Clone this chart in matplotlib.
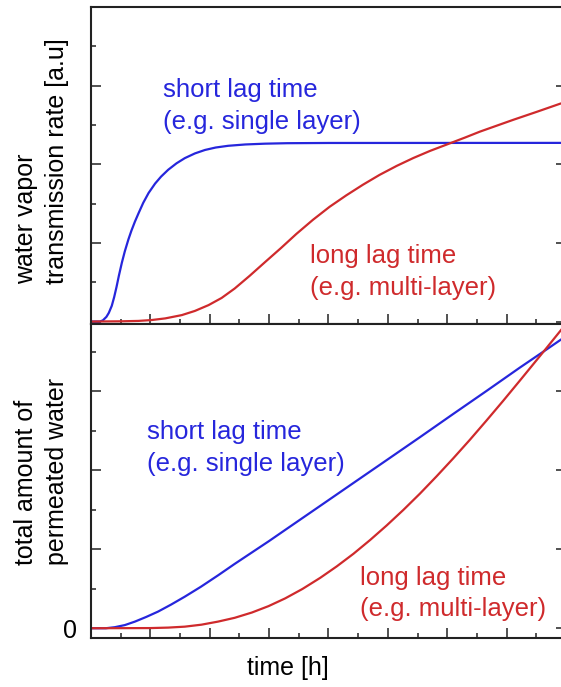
import numpy as np
import matplotlib
matplotlib.use("Agg")
from matplotlib import pyplot as plt
from matplotlib.ticker import MultipleLocator

# water vapor transmission rate (top panel), time in h, rate in a.u.
wvtr_short_t = [0.0, 0.15, 0.20, 0.26, 0.30, 0.35, 0.39, 0.43, 0.47, 0.52,
                0.57, 0.63, 0.68, 0.74, 0.80, 0.88, 0.97, 1.08, 1.18, 1.30,
                1.44, 1.58, 1.75, 1.92, 2.10, 2.31, 2.60, 2.93, 3.30, 4.0, 8.0]
wvtr_short_v = [0.0, 0.0, 0.015, 0.06, 0.11, 0.20, 0.31, 0.44, 0.584, 0.749,
                0.894, 1.044, 1.154, 1.271, 1.376, 1.51, 1.635, 1.755, 1.843, 1.93,
                2.012, 2.078, 2.138, 2.182, 2.213, 2.235, 2.252, 2.262, 2.268, 2.271, 2.272]

wvtr_long_t = [0.0, 0.5, 0.8, 1.02, 1.25, 1.53, 1.75, 1.98, 2.20, 2.42,
               2.67, 2.93, 3.20, 3.46, 3.74, 4.02, 4.30, 4.58, 4.86, 5.15,
               5.43, 5.71, 6.04, 6.30, 6.55, 6.83, 7.11, 7.50, 7.90, 8.0]
wvtr_long_v = [0.0, 0.003, 0.008, 0.019, 0.04, 0.082, 0.135, 0.209, 0.30, 0.42,
               0.58, 0.755, 0.935, 1.115, 1.295, 1.46, 1.605, 1.74, 1.865, 1.98,
               2.08, 2.17, 2.265, 2.34, 2.415, 2.49, 2.565, 2.665, 2.77, 2.79]

# total amount of permeated water (bottom panel)
total_short_t = [0.0, 0.25, 0.40, 0.57, 0.74, 0.93, 1.13, 1.35, 1.58, 1.85,
                 2.14, 2.42, 2.71, 3.0, 3.27, 3.86, 4.42, 5.0, 5.54, 6.1,
                 6.66, 7.22, 7.67, 8.0]
total_short_v = [0.0, 0.0, 0.013, 0.04, 0.084, 0.143, 0.211, 0.30, 0.40, 0.525,
                 0.67, 0.815, 0.96, 1.105, 1.245, 1.55, 1.84, 2.14, 2.42, 2.714,
                 3.005, 3.30, 3.53, 3.70]

total_long_t = [0.0, 1.0, 1.3, 1.58, 1.86, 2.14, 2.42, 2.71, 2.99, 3.27,
                3.56, 3.86, 4.14, 4.42, 4.70, 4.98, 5.26, 5.54, 5.82, 6.10,
                6.38, 6.66, 6.94, 7.22, 7.67, 8.0]
total_long_v = [0.0, 0.002, 0.008, 0.02, 0.045, 0.084, 0.132, 0.199, 0.280, 0.378,
                0.497, 0.638, 0.784, 0.943, 1.117, 1.302, 1.498, 1.705, 1.924, 2.151,
                2.386, 2.630, 2.879, 3.134, 3.548, 3.855]

blue = '#2626dc'
red = '#cf2a2c'

plt.rcParams['font.family'] = ['Liberation Sans', 'DejaVu Sans']

fig = plt.figure(figsize=(5.61, 6.87), dpi=100)
ax1 = fig.add_axes([0.1622, 0.5291, 0.8467, 0.4607])
ax2 = fig.add_axes([0.1622, 0.0706, 0.8467, 0.4585])

ax1.plot(wvtr_short_t, wvtr_short_v, color=blue, lw=1.6)
ax1.plot(wvtr_long_t, wvtr_long_v, color=red, lw=1.6)
ax2.plot(total_short_t, total_short_v, color=blue, lw=1.6)
ax2.plot(total_long_t, total_long_v, color=red, lw=1.6)

ax1.set_xlim(0, 8)
ax2.set_xlim(0, 8)
ax1.set_ylim(-0.025, 4.0)
ax2.set_ylim(-0.13, 3.86)

for ax in (ax1, ax2):
    ax.xaxis.set_major_locator(MultipleLocator(1))
    ax.xaxis.set_minor_locator(MultipleLocator(0.5))
    ax.yaxis.set_major_locator(MultipleLocator(1))
    ax.yaxis.set_minor_locator(MultipleLocator(0.5))
    ax.tick_params(which='both', direction='in', left=True, right=True,
                   top=False, bottom=True, labelbottom=False,
                   color='#222222', width=1.1)
    ax.tick_params(which='major', length=7.2)
    ax.tick_params(which='minor', length=3.6)
    for s in ax.spines.values():
        s.set_linewidth(1.5)
        s.set_color('#222222')

ax1.tick_params(labelleft=False)
ax2.set_yticks([0, 1, 2, 3])
ax2.set_yticklabels(['0', '', '', ''])
ax2.tick_params(axis='y', which='major', labelsize=18, pad=10)

ax1.text(1.21, 2.74, 'short lag time\n(e.g. single layer)', color=blue,
         fontsize=18.5, ha='left', va='center', linespacing=1.4)
ax1.text(3.69, 0.63, 'long lag time\n(e.g. multi-layer)', color=red,
         fontsize=18.5, ha='left', va='center', linespacing=1.4)
ax2.text(0.94, 2.28, 'short lag time\n(e.g. single layer)', color=blue,
         fontsize=18.5, ha='left', va='center', linespacing=1.4)
ax2.text(4.53, 0.44, 'long lag time\n(e.g. multi-layer)', color=red,
         fontsize=18.5, ha='left', va='center', linespacing=1.4)

fig.text(0.074, 0.765, 'water vapor\ntransmission rate [a.u]', rotation=90,
         fontsize=18, ha='center', va='center', multialignment='left',
         linespacing=1.4)
fig.text(0.074, 0.3144, 'total amount of\npermeated water', rotation=90,
         fontsize=18, ha='center', va='center', multialignment='left',
         linespacing=1.4)
fig.text(288 / 561, 1 - 668 / 687, 'time [h]', fontsize=18,
         ha='center', va='center')

fig.savefig('out.png', dpi=100)
